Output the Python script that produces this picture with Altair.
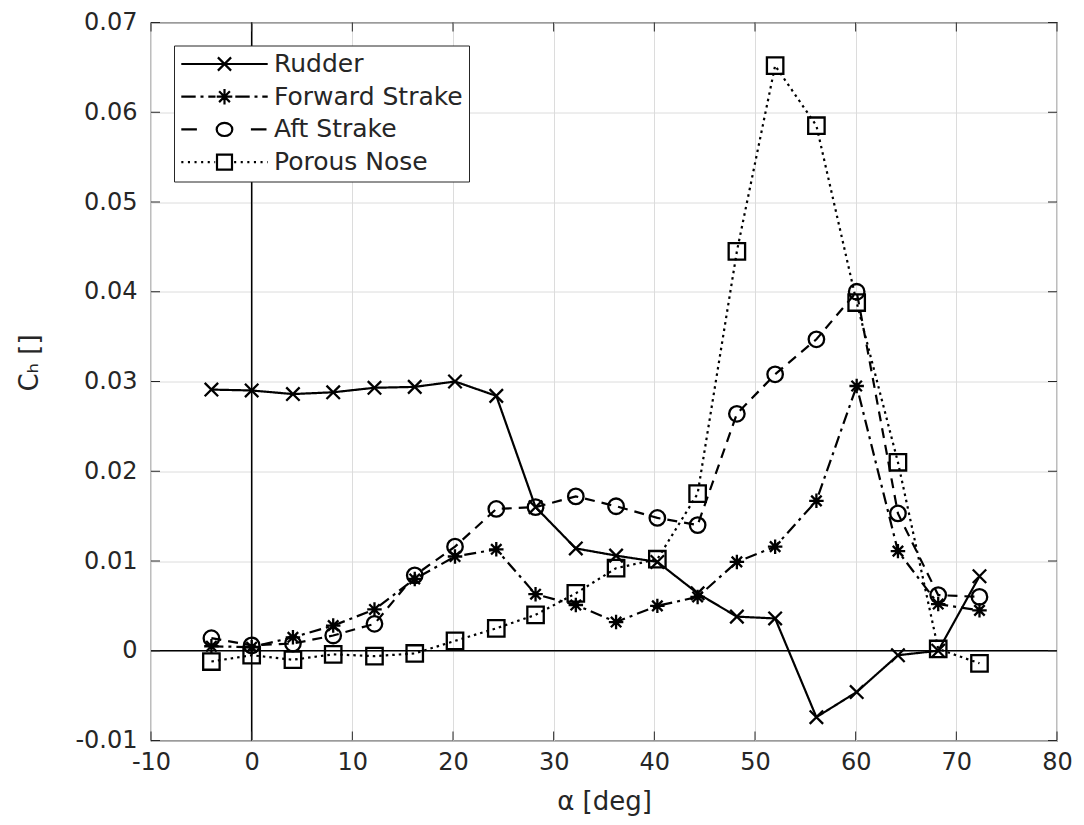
import altair as alt
import pandas as pd

# ---------------- data ----------------
series_names = ["Rudder", "Forward Strake", "Aft Strake", "Porous Nose"]
alpha = [-4.0, 0.0, 4.1, 8.1, 12.2, 16.2, 20.2, 24.3, 28.2, 32.2,
         36.2, 40.3, 44.3, 48.2, 52.0, 56.1, 60.1, 64.2, 68.2, 72.3]
rudder = [0.0291, 0.0290, 0.0286, 0.0288, 0.0293, 0.0294, 0.0300, 0.0284, 0.0160, 0.0114,
          0.0106, 0.0099, 0.0064, 0.0038, 0.0036, -0.0074, -0.0046, -0.0005, 0.0000, 0.0083]
forward = [0.0005, 0.0004, 0.0015, 0.0028, 0.0046, 0.0080, 0.0105, 0.0113, 0.0063, 0.0051,
           0.0032, 0.0050, 0.0060, 0.0099, 0.0116, 0.0167, 0.0295, 0.0111, 0.0052, 0.0045]
aft = [0.0014, 0.0006, 0.0008, 0.0017, 0.0030, 0.0084, 0.0116, 0.0158, 0.0160, 0.0172,
       0.0161, 0.0148, 0.0140, 0.0264, 0.0308, 0.0347, 0.0400, 0.0153, 0.0062, 0.0060]
porous = [-0.0012, -0.0005, -0.0010, -0.0004, -0.0006, -0.0003, 0.0011, 0.0025, 0.0040, 0.0064,
          0.0092, 0.0102, 0.0175, 0.0445, 0.0652, 0.0585, 0.0388, 0.0210, 0.0002, -0.0014]
x_ticks = [-10, 0, 10, 20, 30, 40, 50, 60, 70, 80]
y_ticks = [-0.01, 0.0, 0.01, 0.02, 0.03, 0.04, 0.05, 0.06, 0.07]

rows = []
for name, vals in zip(series_names, [rudder, forward, aft, porous]):
    for i, (a, v) in enumerate(zip(alpha, vals)):
        rows.append({"series": name, "alpha": a, "ch": v, "idx": i})
df = pd.DataFrame(rows)

# ---------------- styling ----------------
W, H = 906, 718
TXT = "#262626"
FONT = "DejaVu Sans"
TICK = 9

xscale = alt.Scale(domain=[-10, 80], nice=False, zero=False)
yscale = alt.Scale(domain=[-0.01, 0.07], nice=False, zero=False)

MINUS = "\u2212"
x_axis = alt.Axis(values=x_ticks, title="α [deg]", grid=True, gridColor="#dcdcdc", gridWidth=1,
                  tickSize=0, domain=False, labelPadding=10, labelFontSize=24, labelFont=FONT,
                  labelColor=TXT, labelFlush=False, labelOverlap=False,
                  labelExpr="replace(format(datum.value, 'd'), '" + MINUS + "', '-')",
                  titleFont=FONT, titleFontSize=26, titleFontWeight="normal", titleColor=TXT,
                  titleBaseline="middle", titleY=61)
y_axis = alt.Axis(values=y_ticks, title="Cₕ []", grid=True, gridColor="#dcdcdc", gridWidth=1,
                  tickSize=0, domain=False, labelPadding=14, labelFontSize=24, labelFont=FONT,
                  labelColor=TXT, labelFlush=False, labelOverlap=False,
                  labelExpr="replace(format(datum.value, '.2~f'), '" + MINUS + "', '-')",
                  titleFont=FONT, titleFontSize=26, titleFontWeight="normal", titleColor=TXT,
                  titleBaseline="middle", titleAlign="center", titleAngle=270,
                  titleX=-122, titleY=340)

dash_range = [[1, 0], [12, 5, 3, 5], [10, 7], [2.5, 4]]
cross = "M-1,-1L1,1M-1,1L1,-1"
aster = "M0,-1L0,1M-1,0L1,0M-0.72,-0.72L0.72,0.72M-0.72,0.72L0.72,-0.72"
marker_range = [cross, aster, "circle", "square"]
size_range = [180, 270, 240, 220]


def segs(pattern, lo=-7.2, hi=7.2, gap=1.5):
    """build dashed path pieces along [lo,hi] skipping the marker zone"""
    out = []
    pos = lo
    k = 0
    while pos < hi:
        length = pattern[k % len(pattern)]
        end = min(pos + length, hi)
        if k % 2 == 0:
            a, b = pos, end
            if b <= -gap or a >= gap:
                out.append((a, b))
            else:
                if a < -gap:
                    out.append((a, -gap))
                if b > gap:
                    out.append((gap, b))
        pos = end
        k += 1
    return "".join(f"M{a:.2f},0H{b:.2f}" for a, b in out)


circ = "M1.3,0A1.3,1.1,0,1,1,-1.3,0A1.3,1.1,0,1,1,1.3,0Z"
sq = "M-1.25,-1.25H1.25V1.25H-1.25Z"
legend_range = [
    "M-7.2,0H7.2" + "M-1.1,-1.1L1.1,1.1M-1.1,1.1L1.1,-1.1",
    segs([2.4, 0.8, 0.5, 0.8]) + "M0,-1.3L0,1.3M-1.3,0L1.3,0M-0.9,-0.9L0.9,0.9M-0.9,0.9L0.9,-0.9",
    "M-7.2,0H-4.6M4.4,0H7.0" + circ,
    segs([0.35, 0.75], gap=1.55) + sq,
]

dom = series_names
base = alt.Chart(df)

X = alt.X("alpha:Q", scale=xscale, axis=x_axis)
Y = alt.Y("ch:Q", scale=yscale, axis=y_axis)

lines = base.mark_line(color="black", strokeWidth=2.2).encode(
    x=X, y=Y,
    detail="series:N",
    order="idx:Q",
    strokeDash=alt.StrokeDash("series:N", scale=alt.Scale(domain=dom, range=dash_range), legend=None),
)

points = base.mark_point(color="black", filled=False, strokeWidth=2.3, opacity=1).encode(
    x=X, y=Y,
    shape=alt.Shape("series:N", scale=alt.Scale(domain=dom, range=marker_range), legend=None),
    size=alt.Size("series:N", scale=alt.Scale(domain=dom, range=size_range), legend=None),
)

legend_layer = base.transform_filter("false").mark_point(color="black", filled=False, strokeWidth=2).encode(
    x=X, y=Y,
    shape=alt.Shape("series:N", scale=alt.Scale(domain=dom, range=legend_range),
                    legend=alt.Legend(title=None, orient="none", legendX=23, legendY=23,
                                      symbolSize=144, symbolStrokeWidth=2.2, symbolStrokeColor="black",
                                      symbolFillColor="transparent", symbolOpacity=1,
                                      labelFontSize=25, labelFont=FONT, labelColor=TXT, labelLimit=400,
                                      fillColor="white", strokeColor=TXT, padding=6, rowPadding=6.7,
                                      symbolOffset=32, labelOffset=37, cornerRadius=0)),
)

zero_df = pd.DataFrame({"alpha": [0.0], "ch": [0.0]})
vzero = alt.Chart(zero_df).mark_rule(color="black", strokeWidth=1.5).encode(x=X)
hzero = alt.Chart(zero_df).mark_rule(color="black", strokeWidth=1.5).encode(y=Y)

xt = pd.DataFrame({"alpha": x_ticks})
yt = pd.DataFrame({"ch": y_ticks})
tick_b = alt.Chart(xt).mark_rule(color=TXT, strokeWidth=1).encode(
    x=X, y=alt.value(H), y2=alt.value(H - TICK))
tick_t = alt.Chart(xt).mark_rule(color=TXT, strokeWidth=1).encode(
    x=X, y=alt.value(0), y2=alt.value(TICK))
tick_l = alt.Chart(yt).mark_rule(color=TXT, strokeWidth=1).encode(
    y=Y, x=alt.value(0), x2=alt.value(TICK))
tick_r = alt.Chart(yt).mark_rule(color=TXT, strokeWidth=1).encode(
    y=Y, x=alt.value(W), x2=alt.value(W - TICK))

chart = alt.layer(
    lines, vzero, hzero, points, tick_b, tick_t, tick_l, tick_r, legend_layer
).resolve_scale(shape="independent").resolve_legend(shape="independent").properties(
    width=W, height=H,
    autosize=alt.AutoSizeParams(type="none"),
    padding={"left": 143, "top": 14.5, "right": 19, "bottom": 84},
    background="white",
).configure_view(stroke=TXT, strokeWidth=1.2)

chart.save("out.html", embed_options={"renderer": "svg", "actions": False})
